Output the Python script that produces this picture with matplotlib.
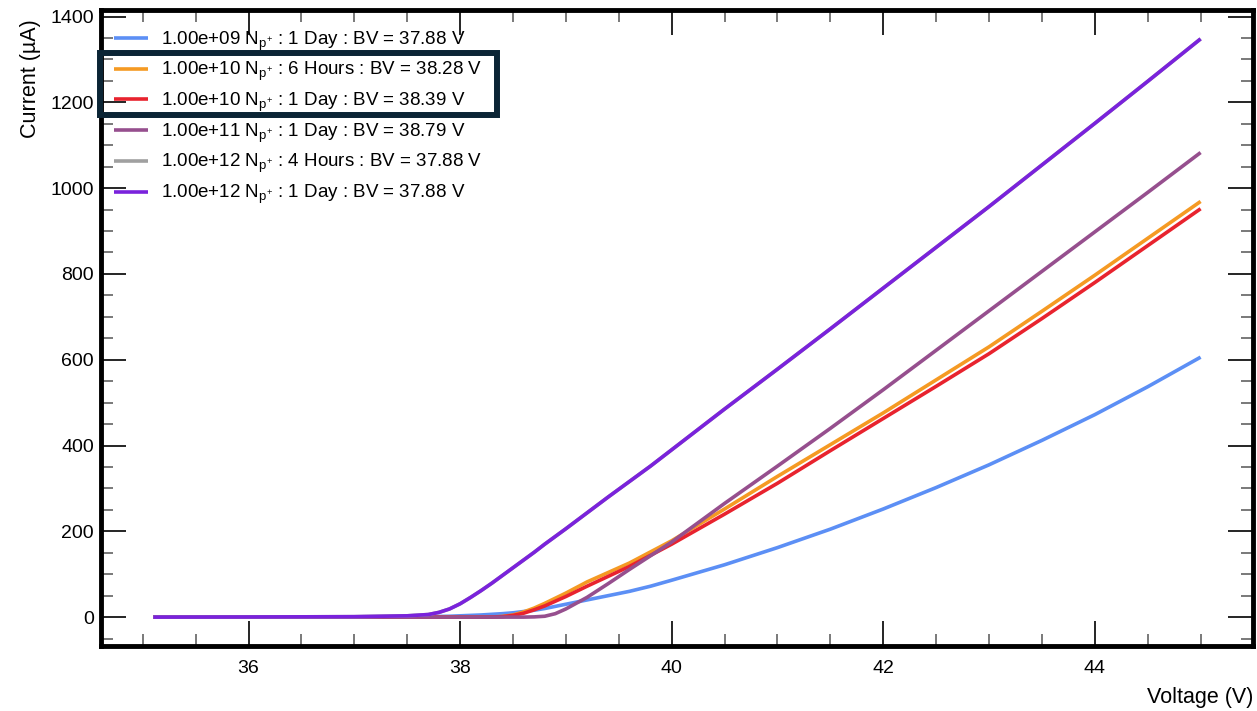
import matplotlib
matplotlib.use("Agg")
import matplotlib.pyplot as plt
from matplotlib.patches import Rectangle
from matplotlib.ticker import MultipleLocator

plt.rcParams['font.family'] = ['Liberation Sans', 'DejaVu Sans']
plt.rcParams['mathtext.fontset'] = 'custom'
plt.rcParams['mathtext.rm'] = 'Liberation Sans'
plt.rcParams['mathtext.it'] = 'Liberation Sans'

# bias voltage (V)
voltage = [35.1, 36.0, 37.0, 37.5, 37.7, 37.8, 37.9, 38.0, 38.1, 38.2, 38.3,
           38.4, 38.5, 38.6, 38.7, 38.8, 38.9, 39.0, 39.2, 39.4, 39.6, 39.8,
           40.0, 40.5, 41.0, 41.5, 42.0, 42.5, 43.0, 43.5, 44.0, 44.5, 45.0]

# current (uA) for each run
i_1e09_1day = [0, 0, 0, 0.5, 1, 1.5, 2, 3, 4, 5, 6.5,
               8, 10, 13, 16, 20, 25, 30, 40, 50, 60, 72,
               86, 122, 162, 205, 252, 302, 355, 412, 472, 537, 606]
i_1e10_6h = [0, 0, 0, 0, 0, 0, 0, 0, 0, 0, 0.3,
             1.5, 5, 12, 21, 32, 44, 56, 82, 104, 126, 152,
             178, 252, 328, 402, 476, 553, 630, 713, 797, 883, 969]
i_1e10_1day = [0, 0, 0, 0, 0, 0, 0, 0, 0, 0, 0.2,
               1, 4, 9, 17, 26, 37, 48, 72, 95, 118, 144,
               170, 240, 312, 388, 463, 538, 614, 696, 780, 866, 952]
i_1e11_1day = [0, 0, 0, 0, 0, 0, 0, 0, 0, 0, 0,
               0, 0, 0, 0.5, 2, 8, 19, 46, 78, 111, 143,
               175, 265, 352, 440, 530, 622, 714, 806, 898, 990, 1083]
i_1e12_4h = [0, 0.3, 1, 3, 6, 11, 19, 31, 46, 62, 79,
             97, 115, 133, 151, 170, 188, 206, 243, 280, 316, 352,
             390, 485, 578, 672, 767, 862, 957, 1054, 1151, 1249, 1348]
i_1e12_1day = [0, 0.3, 1, 3, 6, 11, 19, 31, 46, 62, 79,
               97, 115, 133, 151, 170, 188, 206, 243, 280, 316, 352,
               390, 485, 578, 672, 767, 862, 957, 1054, 1151, 1249, 1348]

NP = r'$\mathregular{N_{p^{+}}}$'
labels = [
    "1.00e+09 " + NP + " : 1 Day : BV = 37.88 V",
    "1.00e+10 " + NP + " : 6 Hours : BV = 38.28 V",
    "1.00e+10 " + NP + " : 1 Day : BV = 38.39 V",
    "1.00e+11 " + NP + " : 1 Day : BV = 38.79 V",
    "1.00e+12 " + NP + " : 4 Hours : BV = 37.88 V",
    "1.00e+12 " + NP + " : 1 Day : BV = 37.88 V",
]
series = [i_1e09_1day, i_1e10_6h, i_1e10_1day, i_1e11_1day, i_1e12_4h, i_1e12_1day]
colors = ["#5c8ff5", "#f59a23", "#e8232e", "#964f8e", "#a0a0a0", "#7a22dc"]

fig = plt.figure(figsize=(12.57, 7.11), dpi=100)
ax = fig.add_axes([0.0803, 0.0914, 0.9165, 0.8946])

for y, c, lab in zip(series, colors, labels):
    ax.plot(voltage, y, color=c, lw=2.6, label=lab, solid_capstyle='butt')

ax.xaxis.set_major_locator(MultipleLocator(2))
ax.xaxis.set_minor_locator(MultipleLocator(0.5))
ax.yaxis.set_major_locator(MultipleLocator(200))
ax.yaxis.set_minor_locator(MultipleLocator(50))
ax.tick_params(which='both', direction='in', top=True, right=True, labelsize=14)
ax.tick_params(which='major', length=18, width=1.2, color='black')
ax.tick_params(which='minor', length=8.6, width=1.1, color='#555555')
ax.tick_params(axis='x', which='major', pad=10)
ax.tick_params(axis='y', which='major', pad=5)
for s in ax.spines.values():
    s.set_linewidth(3.5)

ax.set_xlabel("Voltage (V)", fontsize=15.5, loc='right', labelpad=7)
ax.set_ylabel("Current (µA)", fontsize=15.5, loc='top', labelpad=7)
ax.yaxis.label.set_y(0.985)

ax.legend(loc='upper left', frameon=False, fontsize=13.5, handlelength=1.8,
          handletextpad=0.7, labelspacing=0.4, borderaxespad=0.3,
          bbox_to_anchor=(0.0, 0.99))

# highlight box around the 1e10 runs
fig.patches.append(Rectangle((0.0796, 0.8383), 0.3158, 0.0872, transform=fig.transFigure,
                             fill=False, edgecolor='#0b2535', lw=4.3, zorder=10))

fig.savefig("out.png", dpi=100)
